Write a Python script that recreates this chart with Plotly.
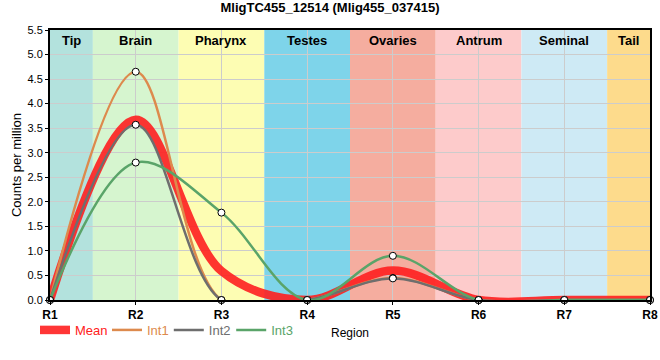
import plotly.graph_objects as go

regions = ["R1", "R2", "R3", "R4", "R5", "R6", "R7", "R8"]
x_pos = [1, 2, 3, 4, 5, 6, 7, 8]
mean_vals = [0.0, 3.67, 0.59, 0.0, 0.60, 0.0, 0.0, 0.0]
int1_vals = [0.0, 4.65, 0.0, 0.0, 0.45, 0.0, 0.0, 0.0]
int2_vals = [0.0, 3.57, 0.0, 0.0, 0.44, 0.0, 0.0, 0.0]
int3_vals = [0.0, 2.80, 1.78, 0.0, 0.90, 0.0, 0.0, 0.0]

tissues = ["Tip", "Brain", "Pharynx", "Testes", "Ovaries", "Antrum", "Seminal", "Tail"]
tissue_start = [1.0, 1.5, 2.5, 3.5, 4.5, 5.5, 6.5, 7.5]
tissue_end = [1.5, 2.5, 3.5, 4.5, 5.5, 6.5, 7.5, 8.0]
tissue_colors = ["#b3e2dd", "#d6f5cf", "#fdfdb3", "#7ed4ea", "#f5ad9f", "#fdcbcb", "#ceeaf5", "#fddb8c"]

c_mean, c1, c2, c3 = "#ff2020", "#dd8a4d", "#6e6e6e", "#5aa469"
legend_x = [-0.025, 0.095, 0.198, 0.302]

fig = go.Figure()
fig.add_trace(go.Scatter(x=x_pos, y=mean_vals, mode="lines", line=dict(color=c_mean, width=8.5, shape="spline", smoothing=1.0),
                         opacity=0.9, name=f"<span style='color:{c_mean}'>Mean</span>", legend="legend"))
for i, (vals, col, nm) in enumerate([(int1_vals, c1, "Int1"), (int2_vals, c2, "Int2"), (int3_vals, c3, "Int3")]):
    fig.add_trace(go.Scatter(x=x_pos, y=vals, mode="lines", line=dict(color=col, width=2.5, shape="spline", smoothing=1.0),
                             name=f"<span style='color:{col}'>{nm}</span>", legend=f"legend{i + 2}"))
for vals in [int1_vals, int2_vals, int3_vals]:
    fig.add_trace(go.Scatter(x=x_pos, y=vals, mode="markers", showlegend=False, cliponaxis=False,
                             marker=dict(size=7, color="white", line=dict(color="black", width=1))))

shapes = []
annotations = []
for t, s, e, c in zip(tissues, tissue_start, tissue_end, tissue_colors):
    shapes.append(dict(type="rect", xref="x", yref="paper", x0=s, x1=e, y0=0, y1=1, fillcolor=c, line=dict(width=0), layer="below"))
    annotations.append(dict(x=(s + e) / 2, y=1, xref="x", yref="paper", text=f"<b>{t}</b>", showarrow=False, yanchor="top", yshift=-1,
                            font=dict(size=13, color="black")))

legend_common = dict(orientation="h", xanchor="left", y=-0.111, yanchor="middle", font=dict(size=13),
                     bgcolor="rgba(0,0,0,0)", itemwidth=30)

fig.update_layout(
    width=660, height=360,
    margin=dict(l=50, r=10, t=30, b=60, autoexpand=False),
    paper_bgcolor="white", plot_bgcolor="white",
    font=dict(family="Liberation Sans, Arial, sans-serif", color="black"),
    title=dict(text="<b>MligTC455_12514 (Mlig455_037415)</b>", x=0.5, xanchor="center", xref="container",
               y=0.978, yanchor="middle", yref="container", font=dict(size=13)),
    shapes=shapes, annotations=annotations,
    showlegend=True,
    legend=dict(x=legend_x[0], **legend_common),
    legend2=dict(x=legend_x[1], **legend_common),
    legend3=dict(x=legend_x[2], **legend_common),
    legend4=dict(x=legend_x[3], **legend_common),
    xaxis=dict(range=[1, 8], tickvals=x_pos, ticktext=[f"<b>{r}</b>" for r in regions], tickfont=dict(size=12),
               showgrid=True, gridcolor="#cccccc", gridwidth=1, showline=True, linecolor="black", linewidth=2, mirror=True,
               ticks="outside", ticklen=3, tickcolor="black", layer="above traces", zeroline=False, automargin=False,
               title=dict(text="Region", font=dict(size=12), standoff=7)),
    yaxis=dict(range=[0, 5.5], dtick=0.5, tickformat=".1f", tickfont=dict(size=11),
               showgrid=True, gridcolor="#cccccc", gridwidth=1, showline=True, linecolor="black", linewidth=2, mirror=True,
               ticks="outside", ticklen=3, tickcolor="black", zeroline=False, automargin=False,
               title=dict(text="Counts per million", font=dict(size=13), standoff=3)),
)
fig.write_html("out.html", config={"displayModeBar": False}, post_script="document.body.style.margin='0';")
